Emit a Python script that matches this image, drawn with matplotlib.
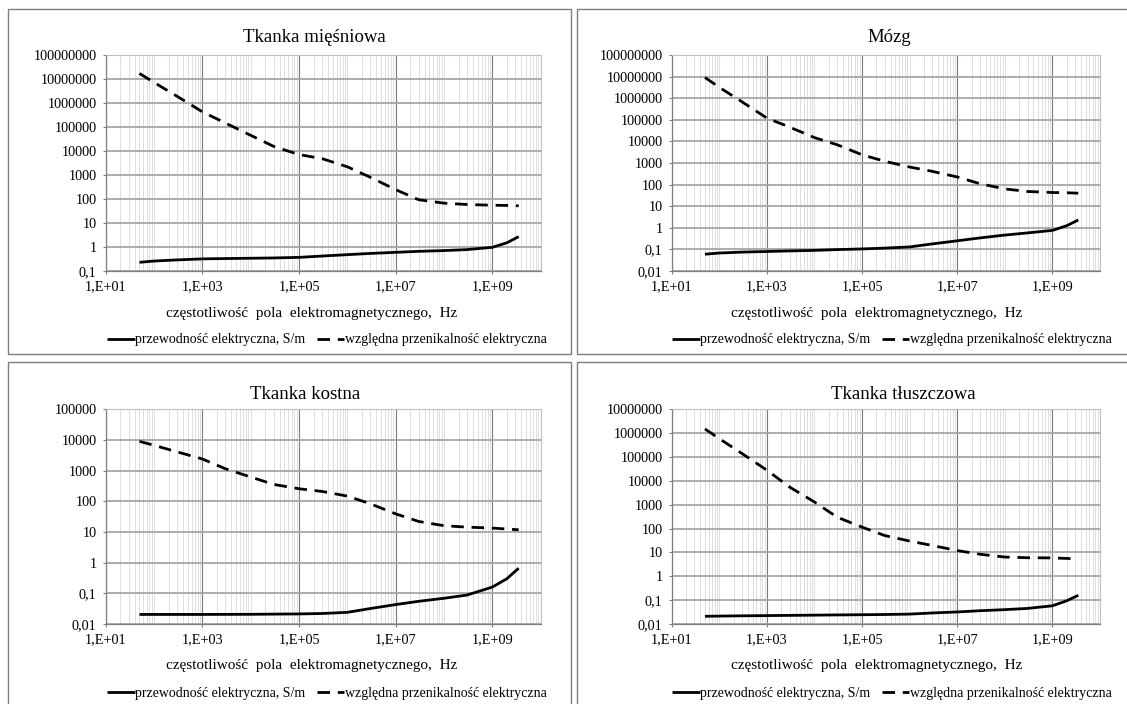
import numpy as np
import matplotlib
matplotlib.use("Agg")
import matplotlib.pyplot as plt
from matplotlib.ticker import FixedLocator, FuncFormatter, NullFormatter
from matplotlib.patches import Rectangle

plt.rcParams['font.family'] = ['Liberation Serif', 'DejaVu Serif']

# frequencies, Hz
freq = [50, 100, 300, 1e3, 3e3, 1e4, 3e4, 1e5, 3e5, 1e6, 3e6, 1e7, 3e7, 1e8, 3e8, 1e9, 2e9, 3.5e9]

# conductivity S/m and relative permittivity
muscle_sigma = [0.23, 0.26, 0.29, 0.32, 0.33, 0.34, 0.35, 0.37, 0.42, 0.48, 0.54, 0.60, 0.66, 0.71, 0.78, 0.97, 1.5, 2.7]
muscle_eps = [1.7e7, 7.2e6, 1.9e6, 4.3e5, 1.46e5, 4.5e4, 1.55e4, 7.1e3, 4.8e3, 2.2e3, 800, 245, 93, 67, 59, 55, 54, 52]

brain_sigma = [0.06, 0.068, 0.075, 0.08, 0.085, 0.09, 0.098, 0.105, 0.115, 0.13, 0.18, 0.25, 0.34, 0.46, 0.58, 0.76, 1.25, 2.3]
brain_eps = [9.1e6, 3.2e6, 6.8e5, 1.2e5, 4.6e4, 1.5e4, 7e3, 2.4e3, 1.2e3, 650, 410, 226, 110, 63, 48, 43, 42, 40]

bone_sigma = [0.0205, 0.0205, 0.0205, 0.0205, 0.0206, 0.0207, 0.021, 0.0213, 0.022, 0.024, 0.032, 0.043, 0.055, 0.069, 0.088, 0.16, 0.30, 0.66]
bone_eps = [9.0e3, 6.7e3, 4.1e3, 2.4e3, 1.15e3, 620, 355, 257, 210, 148, 83, 39, 22, 16, 14.4, 13.4, 12.5, 11.8]

fat_sigma = [0.021, 0.0215, 0.022, 0.0225, 0.023, 0.0235, 0.024, 0.0245, 0.025, 0.026, 0.029, 0.032, 0.036, 0.040, 0.045, 0.058, 0.094, 0.16]
fat_eps = [1.5e6, 5.9e5, 1.4e5, 2.8e4, 5.5e3, 1.3e3, 300, 115, 51, 30, 19.5, 12, 8.4, 6.4, 6.0, 5.9, 5.6, 5.4]

titles = ["Tkanka mięśniowa", "Mózg", "Tkanka kostna", "Tkanka tłuszczowa"]
xlabel = "częstotliwość  pola  elektromagnetycznego,  Hz"
label_sigma = "przewodność elektryczna, S/m"
label_eps = "względna przenikalność elektryczna"

W, H = 1127, 704
fig = plt.figure(figsize=(W / 100, H / 100), dpi=100)

# panel frames (pixels: x0, y0, x1, y1)
frames = [(8, 9, 571, 354), (577, 9, 1135, 354), (8, 362, 571, 712), (577, 362, 1135, 712)]
for x0, y0, x1, y1 in frames:
    fig.patches.append(Rectangle((x0 / W, 1 - y1 / H), (x1 - x0) / W, (y1 - y0) / H,
                                 transform=fig.transFigure, fill=False, edgecolor='#7f7f7f', lw=1.0))

# axes boxes in pixels: left, top, right, bottom
boxes = [(105.7, 55, 540.7, 271), (671.7, 55, 1100, 271),
         (105.7, 409.3, 540.7, 624), (671.7, 409.3, 1100, 624)]
ylims = [(0.1, 1e8), (0.01, 1e8), (0.01, 1e5), (0.01, 1e7)]
title_pos = [(314, 42), (889, 42), (305, 399), (903, 399)]
xlabel_pos = [(312, 313), (877, 313), (312, 665), (877, 665)]
legend_pos = [(327, 340), (892, 340), (327, 693), (892, 693)]
sigmas = [muscle_sigma, brain_sigma, bone_sigma, fat_sigma]
epss = [muscle_eps, brain_eps, bone_eps, fat_eps]


def yfmt(v, pos):
    if v >= 1:
        return "%d" % round(v)
    return ("%g" % v).replace('.', ',')


def xfmt(v, pos):
    return "1,E+%02d" % round(np.log10(v))


minor_x = [m * 10.0 ** k for k in range(1, 10) for m in range(2, 11)]
minor_x = [v for v in minor_x if v not in (1e1, 1e3, 1e5, 1e7, 1e9) and v <= 1e10]

for i in range(4):
    l, t, r, b = boxes[i]
    ax = fig.add_axes([l / W, 1 - b / H, (r - l) / W, (b - t) / H])
    ax.set_xscale('log')
    ax.set_yscale('log')
    ax.set_xlim(10, 1e10)
    ax.set_ylim(*ylims[i])

    ax.xaxis.set_major_locator(FixedLocator([1e1, 1e3, 1e5, 1e7, 1e9]))
    ax.xaxis.set_minor_locator(FixedLocator(minor_x))
    ax.xaxis.set_major_formatter(FuncFormatter(xfmt))
    ax.xaxis.set_minor_formatter(NullFormatter())
    lo, hi = ylims[i]
    yt = [10.0 ** k for k in range(int(round(np.log10(lo))), int(round(np.log10(hi))) + 1)]
    ax.yaxis.set_major_locator(FixedLocator(yt))
    ax.yaxis.set_minor_locator(FixedLocator([]))
    ax.yaxis.set_major_formatter(FuncFormatter(yfmt))

    ax.grid(True, which='minor', axis='x', color='#d9d9d9', lw=0.6)
    ax.grid(True, which='major', axis='x', color='#7a7a7a', lw=0.8)
    ax.grid(True, which='major', axis='y', color='#a6a6a6', lw=1.3)
    ax.set_axisbelow(True)

    ax.tick_params(axis='both', which='major', direction='out', length=2.5, width=0.8,
                   color='#7f7f7f', labelsize=10.3, pad=4)
    ax.tick_params(axis='x', which='minor', length=0)
    for s in ['left', 'bottom']:
        ax.spines[s].set_color('#7f7f7f')
        ax.spines[s].set_linewidth(0.9)
    for s in ['top', 'right']:
        ax.spines[s].set_color('#bfbfbf')
        ax.spines[s].set_linewidth(0.8)

    ax.plot(freq, sigmas[i], color='black', lw=2.0, label=label_sigma, solid_capstyle='butt')
    ax.plot(freq, epss[i], color='black', lw=2.0, ls=(0, (4.5, 2.8)), label=label_eps)

    tx, ty = title_pos[i]
    fig.text(tx / W, 1 - ty / H, titles[i], ha='center', va='baseline', fontsize=13.5)
    xx, xy = xlabel_pos[i]
    fig.text(xx / W, 1 - xy / H, xlabel, ha='center', va='center', fontsize=11)
    lx, ly = legend_pos[i]
    ax.legend(loc='center', bbox_to_anchor=(lx / W, 1 - ly / H), bbox_transform=fig.transFigure,
              ncol=2, frameon=False, fontsize=10, handlelength=2.0, handletextpad=0.05,
              columnspacing=0.8, borderpad=0, borderaxespad=0)

fig.savefig("out.png", dpi=100)
